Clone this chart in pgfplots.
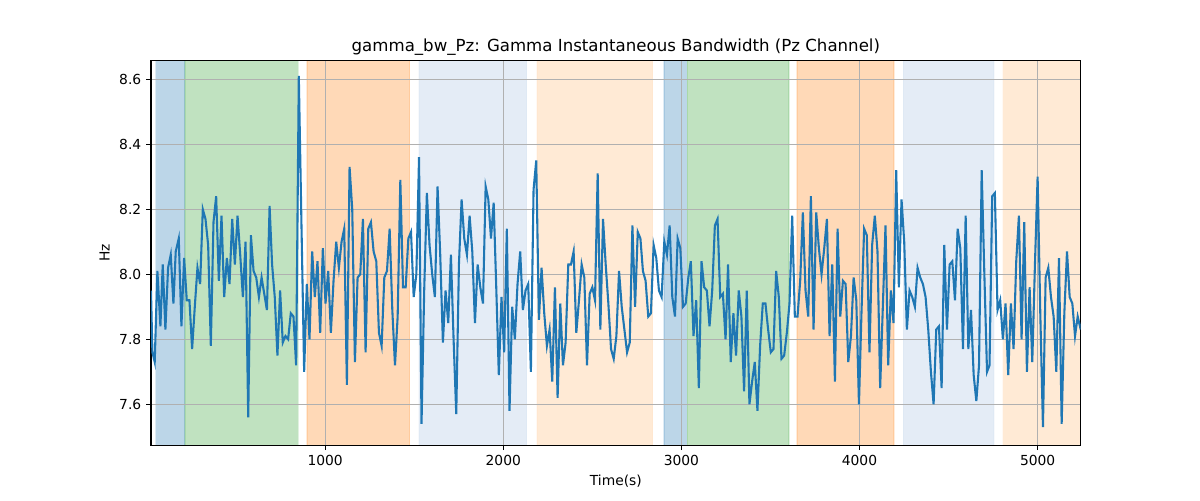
\documentclass[border=0pt]{standalone}
\usepackage{fontspec}
\setmainfont{DejaVu Sans}
\usepackage{pgfplots}
\pgfplotsset{compat=1.18}
\definecolor{tabblue}{RGB}{31,119,180}
\definecolor{tabgreen}{RGB}{44,160,44}
\definecolor{taborange}{RGB}{255,127,14}
\definecolor{cBlue}{RGB}{188,214,232}
\definecolor{cGreen}{RGB}{192,226,192}
\definecolor{cOrange}{RGB}{255,217,183}
\definecolor{cLBlue}{RGB}{228,236,246}
\definecolor{cPeach}{RGB}{255,234,213}
\definecolor{gridgray}{RGB}{176,176,176}
\begin{document}
\begin{tikzpicture}[x=1bp,y=1bp]
\begin{axis}[
  set layers,
  at={(108.7bp,39.4bp)}, anchor=south west,
  scale only axis, width=669.4bp, height=276.9bp,
  xmin=22, xmax=5242, ymin=7.474, ymax=8.657,
  xtick={1000,2000,3000,4000,5000},
  ytick={7.6,7.8,8.0,8.2,8.4,8.6},
  xticklabel style={/pgf/number format/1000 sep={}},
  yticklabel style={/pgf/number format/.cd,fixed,fixed zerofill,precision=1},
  /pgf/number format/assume math mode=true,
  tick label style={font=\fontsize{10}{12}\selectfont},
  label style={font=\fontsize{10}{12}\selectfont},
  tick align=outside, major tick length=3.5bp,
  xtick pos=bottom, ytick pos=left,
  tick style={black, line width=0.8bp},
  axis line style={line width=0.8bp},
  grid=major, grid style={gridgray, line width=0.8bp},
  title={gamma\_bw\_Pz: Gamma Instantaneous Bandwidth (Pz Channel)},
  title style={font=\fontsize{12}{14}\selectfont, at={(0.5,1)}, anchor=base, yshift=1bp},
  xlabel={Time(s)}, ylabel={Hz},
  span/.style={draw opacity=0.15, line width=1bp, on layer=axis background},
]
\addplot[fill=cBlue, draw=tabblue, span] coordinates {(49,7.474) (49,8.657) (212,8.657) (212,7.474)};
\addplot[fill=cGreen, draw=tabgreen, span] coordinates {(212,7.474) (212,8.657) (850,8.657) (850,7.474)};
\addplot[fill=cOrange, draw=taborange, span] coordinates {(897,7.474) (897,8.657) (1474,8.657) (1474,7.474)};
\addplot[fill=cLBlue, draw=cLBlue!85!tabblue, span] coordinates {(1526,7.474) (1526,8.657) (2131,8.657) (2131,7.474)};
\addplot[fill=cPeach, draw=cPeach!85!taborange, span] coordinates {(2189,7.474) (2189,8.657) (2839,8.657) (2839,7.474)};
\addplot[fill=cBlue, draw=tabblue, span] coordinates {(2903,7.474) (2903,8.657) (3034,8.657) (3034,7.474)};
\addplot[fill=cGreen, draw=tabgreen, span] coordinates {(3034,7.474) (3034,8.657) (3605,8.657) (3605,7.474)};
\addplot[fill=cOrange, draw=taborange, span] coordinates {(3650,7.474) (3650,8.657) (4193,8.657) (4193,7.474)};
\addplot[fill=cLBlue, draw=cLBlue!85!tabblue, span] coordinates {(4246,7.474) (4246,8.657) (4755,8.657) (4755,7.474)};
\addplot[fill=cPeach, draw=cPeach!85!taborange, span] coordinates {(4803,7.474) (4803,8.657) (5242,8.657) (5242,7.474)};
\addplot[tabblue, line width=1.5bp, no markers] coordinates {
(22,7.95) (30,7.76) (43,7.73) (58,8.01) (75,7.84) (88,8.03) (103,7.83) (118,8.02) (133,8.06) (148,7.91)
(161,8.07) (178,8.11) (193,7.84) (208,8.05) (223,7.92) (238,7.92) (253,7.77) (268,7.90) (283,8.02) (298,7.97)
(313,8.20) (328,8.17) (343,8.09) (358,7.78) (373,8.16) (388,8.24) (403,7.98) (418,8.18) (433,7.93) (448,8.05)
(463,7.97) (478,8.17) (493,8.03) (508,8.18) (523,8.06) (538,7.93) (553,8.10) (568,7.56) (583,8.12) (598,8.01)
(613,7.99) (628,7.93) (643,7.99) (658,7.94) (673,7.89) (688,8.21) (702,8.03) (717,7.93) (732,7.75) (747,7.95)
(762,7.79) (777,7.81) (792,7.80) (807,7.88) (822,7.87) (837,7.72) (852,8.61) (867,8.15) (882,7.70) (897,7.97)
(912,7.80) (927,8.07) (942,7.93) (957,8.04) (972,7.82) (987,8.08) (1002,7.91) (1017,8.01) (1032,7.82) (1047,7.98)
(1062,8.10) (1077,8.02) (1092,8.10) (1107,8.14) (1122,7.66) (1137,8.33) (1152,8.20) (1167,7.73) (1182,7.99) (1197,8.00)
(1212,8.17) (1227,7.76) (1242,8.14) (1257,8.16) (1272,8.07) (1287,8.04) (1302,7.82) (1317,7.78) (1332,7.99) (1347,8.01)
(1362,8.14) (1377,7.89) (1392,7.72) (1407,7.87) (1422,8.29) (1437,7.96) (1452,7.96) (1467,8.11) (1482,8.13) (1497,7.93)
(1512,8.00) (1527,8.36) (1541,7.54) (1556,7.95) (1571,8.25) (1586,8.09) (1601,8.00) (1616,7.93) (1631,8.27) (1646,8.06)
(1661,7.79) (1676,7.95) (1691,7.85) (1706,8.06) (1721,7.80) (1736,7.57) (1751,8.03) (1766,8.23) (1781,8.11) (1796,8.06)
(1811,8.18) (1826,8.07) (1841,7.85) (1856,8.03) (1871,7.96) (1886,7.91) (1901,8.27) (1916,8.23) (1931,8.11) (1946,8.22)
(1960,7.97) (1975,7.69) (1990,7.93) (2005,7.76) (2020,8.14) (2035,7.58) (2050,7.90) (2065,7.80) (2080,7.97) (2095,8.07)
(2110,7.89) (2125,7.95) (2140,7.97) (2155,7.70) (2170,8.26) (2185,8.35) (2200,7.86) (2215,8.02) (2230,7.88) (2245,7.78)
(2260,7.83) (2275,7.67) (2290,7.96) (2305,7.62) (2320,7.91) (2335,7.72) (2350,7.79) (2365,8.03) (2380,8.03) (2395,8.07)
(2410,7.82) (2425,7.92) (2440,8.03) (2455,7.99) (2470,7.72) (2485,7.94) (2500,7.96) (2515,7.92) (2530,8.31) (2545,7.83)
(2560,8.17) (2575,8.03) (2590,7.91) (2605,7.77) (2620,7.74) (2635,7.81) (2650,8.01) (2665,7.90) (2680,7.83) (2695,7.76)
(2710,7.79) (2725,8.15) (2740,7.90) (2755,8.13) (2770,8.11) (2784,8.01) (2799,7.98) (2814,7.87) (2829,7.88) (2844,8.09)
(2859,8.05) (2874,7.95) (2889,7.93) (2904,8.10) (2919,8.06) (2934,8.15) (2949,7.93) (2964,7.87) (2979,8.11) (2994,8.08)
(3009,7.90) (3024,7.91) (3039,7.99) (3053,8.04) (3068,7.81) (3083,7.92) (3098,7.65) (3113,8.04) (3128,7.96) (3143,7.95)
(3158,7.84) (3173,7.95) (3188,8.15) (3203,8.17) (3218,7.93) (3233,7.94) (3248,7.80) (3262,8.03) (3277,7.73) (3292,7.88)
(3307,7.75) (3322,7.95) (3337,7.87) (3352,7.64) (3367,7.95) (3382,7.60) (3397,7.67) (3412,7.73) (3427,7.58) (3442,7.78)
(3457,7.91) (3472,7.91) (3487,7.83) (3502,7.76) (3517,7.77) (3532,8.01) (3547,7.93) (3562,7.74) (3577,7.75) (3592,7.82)
(3607,7.91) (3622,8.18) (3637,7.87) (3652,7.87) (3667,7.98) (3682,8.19) (3697,7.95) (3712,7.87) (3727,8.24) (3742,7.83)
(3757,8.19) (3772,8.08) (3787,8.00) (3802,8.08) (3817,8.17) (3832,7.81) (3847,8.03) (3862,7.67) (3877,8.14) (3892,7.87)
(3907,7.98) (3922,7.97) (3937,7.73) (3952,7.81) (3967,7.99) (3982,7.92) (3997,7.60) (4011,7.88) (4026,8.14) (4041,8.12)
(4056,7.76) (4071,8.09) (4086,8.18) (4101,8.07) (4116,7.65) (4131,7.90) (4146,8.15) (4161,7.72) (4176,7.95) (4191,7.85)
(4206,8.32) (4221,7.96) (4236,8.23) (4251,8.10) (4266,7.83) (4281,7.95) (4296,7.93) (4311,7.90) (4326,8.02) (4341,7.99)
(4356,7.97) (4371,7.93) (4386,7.83) (4401,7.70) (4416,7.60) (4431,7.83) (4446,7.84) (4461,7.65) (4476,8.09) (4491,7.83)
(4506,8.03) (4521,8.04) (4536,7.92) (4551,8.14) (4566,8.08) (4581,7.77) (4596,8.18) (4611,7.77) (4626,7.89) (4641,7.69)
(4656,7.61) (4671,7.72) (4686,8.32) (4701,8.00) (4716,7.70) (4730,7.72) (4745,8.24) (4760,8.25) (4775,7.89) (4790,7.92)
(4805,7.80) (4820,7.91) (4835,7.69) (4850,7.91) (4865,7.77) (4880,8.04) (4895,8.18) (4910,7.80) (4925,8.16) (4940,7.70)
(4955,7.96) (4970,7.73) (4985,8.03) (5000,8.30) (5015,7.88) (5030,7.53) (5045,7.99) (5060,8.02) (5075,7.93) (5090,7.87)
(5105,7.70) (5120,8.05) (5135,7.54) (5150,7.88) (5165,8.07) (5180,7.93) (5195,7.91) (5210,7.81) (5225,7.87) (5242,7.83)
};
\end{axis}
\path (0,0) rectangle (864,360);
\end{tikzpicture}
\end{document}
